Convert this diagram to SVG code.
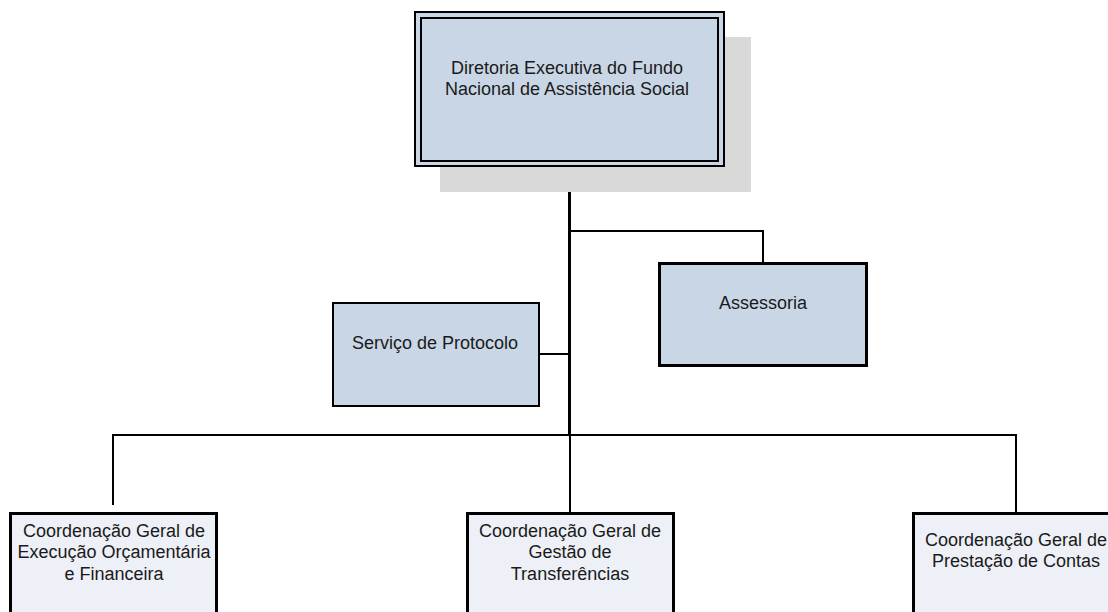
<svg xmlns="http://www.w3.org/2000/svg" width="1108" height="612" viewBox="0 0 1108 612">
<style>
.t{font-family:"Liberation Sans",Arial,sans-serif;font-size:18px;fill:#1a1a1a;text-anchor:middle}
.b1{fill:#c9d6e6;stroke:#000;stroke-width:2}
.b2{fill:#c9d6e6;stroke:#000;stroke-width:3}
.b3{fill:#edf0f6;stroke:#000;stroke-width:3}
.c{fill:none;stroke:#000;stroke-width:2}
</style>
<rect width="1108" height="612" fill="#fff"/>
<g id="connectors">
<path class="c" d="M569,231 H763 V263"/>
<path class="c" d="M539,354 H569"/>
<path class="c" d="M113,505 V435 H1016 V513"/>
<path class="c" d="M570,435 V513"/>
<path fill="none" stroke="#000" stroke-width="3" d="M569.5,166 V435"/>
</g>
<g id="diretoria">
<rect x="440" y="37" width="311" height="155" fill="#d9d9d9"/>
<rect x="415" y="12" width="309" height="154" class="b1"/>
<rect x="421" y="18" width="297" height="143" class="b1"/>
<text class="t" x="567" y="74">Diretoria Executiva do Fundo</text>
<text class="t" x="567" y="95">Nacional de Assistência Social</text>
</g>
<g id="assessoria">
<rect x="659.5" y="263.5" width="207" height="102" class="b2"/>
<text class="t" x="763" y="309">Assessoria</text>
</g>
<g id="protocolo">
<rect x="333" y="303" width="206" height="103" class="b1"/>
<text class="t" x="435" y="349">Serviço de Protocolo</text>
</g>
<g id="cgeof">
<rect x="10.5" y="513.5" width="206" height="110" class="b3"/>
<text class="t" x="114" y="537">Coordenação Geral de</text>
<text class="t" x="114" y="558">Execução Orçamentária</text>
<text class="t" x="114" y="580">e Financeira</text>
</g>
<g id="cggt">
<rect x="467.5" y="513.5" width="206" height="110" class="b3"/>
<text class="t" x="570" y="537">Coordenação Geral de</text>
<text class="t" x="570" y="558">Gestão de</text>
<text class="t" x="570" y="580">Transferências</text>
</g>
<g id="cgpc">
<rect x="913.5" y="513.5" width="206" height="110" class="b3"/>
<text class="t" x="1016" y="546">Coordenação Geral de</text>
<text class="t" x="1016" y="567">Prestação de Contas</text>
</g>
</svg>
